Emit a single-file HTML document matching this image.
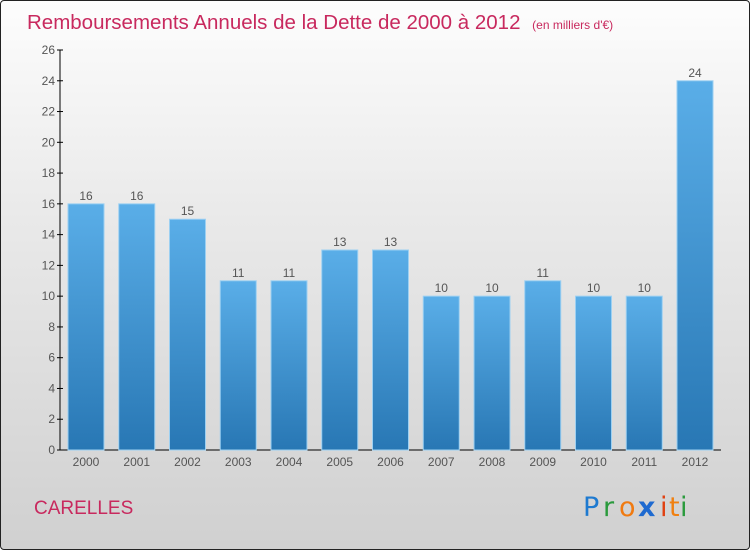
<!DOCTYPE html>
<html><head><meta charset="utf-8"><style>
body{margin:0;width:750px;height:550px;overflow:hidden;font-family:"Liberation Sans",sans-serif}
#frame{position:absolute;left:0;top:0;width:748px;height:548px;border:1px solid #222;border-radius:4px;background:linear-gradient(#fdfdfd,#e9e9e9 40%,#d0d0d0)}
</style></head><body>
<div id="frame"></div>
<svg id="c" width="750" height="550" style="position:absolute;left:0;top:0">
<defs><linearGradient id="bg" x1="0" y1="0" x2="0" y2="1"><stop offset="0" stop-color="#5aaee8"/><stop offset="1" stop-color="#2877b4"/></linearGradient></defs>
<text x="27" y="29" font-size="20.5" fill="#c8295e">Remboursements Annuels de la Dette de 2000 à 2012 <tspan font-size="12" dx="6">(en milliers d'€)</tspan></text>
<text x="34" y="514" font-size="19" fill="#c8295e">CARELLES</text>
<g font-size="27" font-family="'DejaVu Sans',sans-serif">
<text x="583" y="516" fill="#1e7ad0">P</text><text x="603" y="516" fill="#2a9a3c">r</text><text x="619" y="516" fill="#f07a10">o</text><text x="638" y="516" fill="#1e6ad0" font-weight="bold">x</text><text x="660" y="516" fill="#e04010">i</text><text x="669" y="516" fill="#f08010">t</text><text x="680" y="516" fill="#2a9a3c">i</text></g>
<g id="g"></g>
</svg>
<script>
const years=["2000","2001","2002","2003","2004","2005","2006","2007","2008","2009","2010","2011","2012"];
const values=[16,16,15,11,11,13,13,10,10,11,10,10,24];
const ticks=[0,2,4,6,8,10,12,14,16,18,20,22,24,26];
const NS="http://www.w3.org/2000/svg",g=document.getElementById('g');
const y=v=>450-v*400/26, x=i=>86+i*50.75;
function el(t,a,p){const e=document.createElementNS(NS,t);for(const k in a)e.setAttribute(k,a[k]);(p||g).appendChild(e);return e;}
let ax=el('line',{x1:60,y1:50,x2:60,y2:450,stroke:'#000'});


let xa=el('line',{x1:60,y1:450,x2:721,y2:450,stroke:'#000'});


ticks.forEach(t=>{
 el('line',{x1:57,y1:y(t),x2:63,y2:y(t),stroke:'#000'});
 const tx=el('text',{x:55,y:y(t)+4,'text-anchor':'end','font-size':12,fill:'#555'});tx.textContent=t;
 
 
});
values.forEach((v,i)=>{
 const b=el('rect',{x:x(i)-18,y:y(v),width:36,height:450-y(v),fill:'url(#bg)',stroke:'#9cd0f2','stroke-width':1});
 
 
 const l=el('text',{x:x(i),y:y(v)-4,'text-anchor':'middle','font-size':12,fill:'#555'});l.textContent=v;
 
 
 const xl=el('text',{x:x(i),y:466,'text-anchor':'middle','font-size':12,fill:'#555'});xl.textContent=years[i];
 
 
});
</script>
</body></html>
